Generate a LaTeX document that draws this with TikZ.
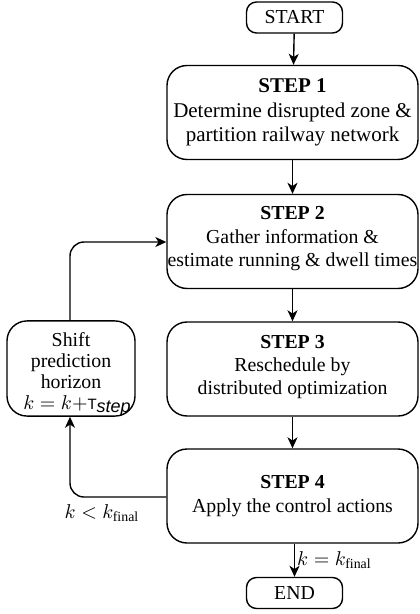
\documentclass[tikz,border=0pt]{standalone}
\usepackage{fontspec}
\usepackage{amsmath}
\setmainfont{Liberation Serif}
\newfontfamily\sansf{Liberation Sans}
\usetikzlibrary{arrows.meta}
\begin{document}
\begin{tikzpicture}[x=0.5pt,y=-0.5pt,
  font=\fontsize{9.9}{11.6}\selectfont,
  line width=0.7pt,
  box/.style={draw, rounded corners=10pt, align=center, inner sep=0pt},
  bigbox/.style={box, minimum width=125.5pt, minimum height=47pt},
  termbox/.style={box, rounded corners=5pt, minimum width=48pt, minimum height=15.5pt},
  arr/.style={-{Stealth[length=5.5pt,width=5pt,inset=1.6pt]}},
  lab/.style={inner sep=1pt}]
\useasboundingbox (0,0) rectangle (419,614);
\node[termbox] (start) at (294.5,17.5) {START};
\node[bigbox, font=\fontsize{10.5}{12.2}\selectfont] (s1) at (292.5,112.5) {\textbf{STEP 1}\\Determine disrupted zone \&\\partition railway network};
\node[bigbox] (s2) at (292.5,241.5) {\textbf{STEP 2}\\Gather information \&\\estimate running \& dwell times\rule[-5pt]{0pt}{5pt}};
\node[bigbox] (s3) at (292.5,369) {\textbf{STEP 3}\\Reschedule by\\distributed optimization\rule[-4pt]{0pt}{4pt}};
\node[bigbox] (s4) at (292.5,496) {\textbf{STEP 4}\\Apply the control actions};
\node[box, minimum width=64pt, minimum height=46.5pt, font=\fontsize{9.9}{10.4}\selectfont] (sh) at (71,368.5) {\rule{0pt}{13pt}Shift\\prediction\\horizon\\\hspace*{6pt}$k=k+${\sansf\fontsize{7.5}{9}\selectfont T\raisebox{-1.5pt}{\fontsize{9}{9}\selectfont\itshape step}}};
\node[termbox] (end) at (294.5,593) {END};
\coordinate (c1) at (70,242);
\coordinate (c2) at (70,497);
\draw[arr] (start) -- (s1);
\draw[arr] (s1) -- (s2);
\draw[arr] (s2) -- (s3);
\draw[arr] (s3) -- (s4);
\draw[arr] (s4.south -| end.north) -- node[lab, right] {$k=k_{\text{final}}$} (end.north);
\draw[arr, rounded corners=7pt] (sh.north -| c1) -- (c1) -- (s2.west |- c1);
\draw[arr, rounded corners=7pt] (s4.west |- c2) -- (c2) -- (sh.south -| c2);
\node[lab] (lt) at (102,513) {$k<k_{\text{final}}$};
\end{tikzpicture}
\end{document}
